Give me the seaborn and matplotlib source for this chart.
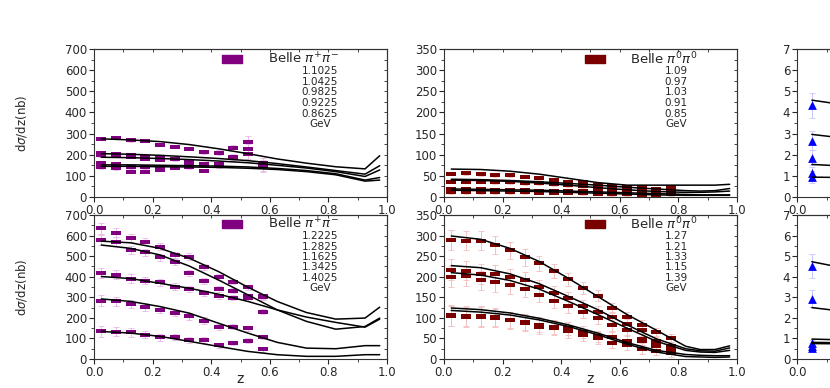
import numpy as np
import pandas as pd
import seaborn as sns
import matplotlib.pyplot as plt
from matplotlib.ticker import MultipleLocator

sns.set_style("ticks")
plt.rcParams['font.family'] = ['DejaVu Sans']

# --- z bins of the data points ---
z_pm = [0.025, 0.075, 0.125, 0.175, 0.225, 0.275, 0.325, 0.375, 0.425, 0.475, 0.525, 0.575]
z_00 = [0.025, 0.075, 0.125, 0.175, 0.225, 0.275, 0.325, 0.375, 0.425, 0.475, 0.525, 0.575,
        0.625, 0.675, 0.725, 0.775]
# --- z nodes of the model curves ---
z_curve = [0.025, 0.125, 0.225, 0.325, 0.425, 0.525, 0.625, 0.725, 0.825, 0.925, 0.975]
z_curve_mid = [0.025, 0.125, 0.225, 0.325, 0.425, 0.525, 0.625, 0.725, 0.825, 0.875, 0.925, 0.975]

# --- top left: Belle pi+pi-, lower masses ---
e_tl = ["1.1025", "1.0425", "0.9825", "0.9225", "0.8625"]
tl_pts = [
    [276, 280, 268, 265, 245, 238, 228, 212, 210, 230, 262, 160],
    [207, 203, 198, 190, 185, 182, 168, 158, 155, 190, 228, 150],
    [197, 195, 190, 182, 175, 178, 160, 150, 148, 185, 205, 145],
    [160, 155, 140, 140, 135, 140, 150, 152, 150],
    [140, 135, 118, 118, 130, 138, 140, 125, 145],
]
tl_err = [6, 6, 6, 6, 6, 6, 7, 8, 10, 14, 25, 25]
tl_curves = [
    [275, 270, 262, 248, 228, 205, 180, 160, 143, 133, 195],
    [205, 202, 197, 190, 182, 172, 158, 142, 125, 108, 148],
    [188, 186, 182, 177, 170, 162, 150, 137, 120, 97, 128],
    [152, 152, 150, 148, 146, 142, 135, 125, 110, 80, 92],
    [145, 145, 143, 142, 140, 136, 130, 120, 105, 75, 80],
]

# --- bottom left: Belle pi+pi-, higher masses ---
e_bl = ["1.2225", "1.2825", "1.1625", "1.3425", "1.4025"]
bl_pts = [
    [635, 615, 590, 570, 546, 506, 498, 449, 400, 376, 349, 304],
    [578, 570, 530, 519, 494, 472, 420, 380, 342, 333, 304, 230],
    [417, 409, 391, 381, 372, 352, 339, 320, 304, 299, 296, 300],
    [284, 280, 268, 252, 239, 223, 207, 187, 157, 158, 150, 107],
    [134, 132, 129, 118, 107, 107, 94, 94, 66, 78, 90, 48],
]
bl_err = [25, 22, 20, 18, 17, 16, 15, 15, 14, 12, 12, 12]
bl_curves = [
    [573, 565, 538, 490, 425, 349, 280, 226, 194, 199, 252],
    [554, 538, 506, 452, 384, 312, 239, 183, 145, 158, 199],
    [401, 391, 368, 344, 315, 280, 239, 204, 178, 155, 194],
    [292, 280, 255, 223, 174, 126, 81, 53, 50, 65, 65],
    [134, 126, 110, 86, 61, 37, 21, 13, 13, 21, 21],
]

# --- top middle: Belle pi0pi0, lower masses ---
e_tm = ["1.09", "0.97", "1.03", "0.91", "0.85"]
tm_pts = [
    [55, 57, 54, 51, 51, 48, 44, 40, 36, 35, 28, 26, 24, 23, 20, 23],
    [36, 36, 36, 35, 35, 33, 32, 30, 28, 26, 22, 21, 20, 18, 16, 15],
    [18, 19, 18, 17, 16, 17, 15, 15, 14, 13, 12, 11, 10, 10, 8, 10],
    [15, 16, 15, 14, 14, 14, 13, 13, 13, 12, 11, 10, 9, 8, 6, 8],
    [12, 12, 12, 11, 11, 11, 10, 10, 10, 9, 8, 7, 6, 5, 3, 6],
]
tm_err = [4, 4, 4, 4, 4, 4, 4, 4, 4, 4, 4, 4, 4, 4, 4, 4]
tm_curves = [
    [66, 65, 61, 54, 44, 34, 28, 28, 28, 28, 28, 30],
    [42, 41, 39, 36, 32, 28, 23, 19, 15, 14, 15, 20],
    [40, 39, 37, 33, 28, 22, 17, 13, 11, 11, 12, 14],
    [19, 18, 17, 16, 14, 12, 10, 8, 6, 5, 5, 5],
    [16, 15, 14, 13, 11, 9, 7, 5, 4, 4, 4, 4],
]

# --- bottom middle: Belle pi0pi0, higher masses ---
e_bm = ["1.27", "1.21", "1.33", "1.15", "1.39"]
bm_pts = [
    [289, 288, 288, 277, 264, 247, 233, 215, 194, 172, 154, 124, 103, 83, 65, 51],
    [217, 215, 207, 207, 199, 191, 175, 160, 148, 129, 114, 101, 86, 71, 43, 31],
    [200, 202, 191, 186, 179, 171, 156, 142, 129, 114, 99, 82, 70, 49, 35, 24],
    [106, 105, 105, 102, 95, 90, 83, 79, 75, 65, 55, 53, 45, 45, 31, 23],
    [105, 103, 103, 99, 94, 87, 79, 75, 67, 59, 51, 39, 33, 24, 19, 15],
]
bm_err = [25, 24, 24, 22, 20, 20, 18, 17, 16, 15, 14, 13, 12, 11, 10, 10]
bm_curves = [
    [299, 291, 269, 237, 196, 152, 108, 70, 31, 23, 23, 32],
    [227, 222, 207, 183, 152, 120, 83, 49, 25, 20, 19, 27],
    [210, 204, 191, 170, 140, 108, 75, 43, 21, 17, 16, 21],
    [124, 120, 112, 99, 83, 63, 40, 21, 11, 9, 8, 8],
    [118, 114, 107, 95, 79, 59, 36, 17, 6, 5, 4, 5],
]

# --- right column (cut off): first z bin only ---
z_r = [0.05]
z_r_curve = [0.05, 0.15]
tr_pts = [4.33, 2.67, 1.86, 1.13, 0.94]
tr_err = [0.6, 0.45, 0.35, 0.3, 0.3]
tr_curves = [[4.58, 4.38], [2.96, 2.8], [1.54, 1.47], [0.94, 0.92]]
br_pts = [4.52, 2.94, 0.76, 0.65, 0.55]
br_err = [0.6, 0.4, 0.15, 0.12, 0.1]
br_curves = [[4.73, 4.45], [2.5, 2.33], [0.97, 0.93], [0.81, 0.79], [0.75, 0.74]]

rect = [(-1, -0.45), (1, -0.45), (1, 0.45), (-1, 0.45), (-1, -0.45)]


def long_df(zs, series):
    rows = []
    for i, vals in enumerate(series):
        for z, v in zip(zs, vals):
            rows.append({"curve": i, "z": z, "val": v})
    return pd.DataFrame(rows)


def style_axes(ax, ymax, ymajor, yminor, show_ylabel, show_xlabel):
    ax.set_xlim(0, 1)
    ax.set_ylim(0, ymax)
    ax.xaxis.set_major_locator(MultipleLocator(0.2))
    ax.xaxis.set_minor_locator(MultipleLocator(0.1))
    ax.yaxis.set_major_locator(MultipleLocator(ymajor))
    ax.yaxis.set_minor_locator(MultipleLocator(yminor))
    ax.xaxis.set_major_formatter(lambda v, p: f"{v:.1f}")
    ax.tick_params(which='major', direction='out', length=3.5, width=0.8, labelsize=8.5, pad=1.5)
    ax.tick_params(which='minor', direction='out', length=2, width=0.6)
    for s in ax.spines.values():
        s.set_linewidth(0.8)
        s.set_color('#333333')
    top = ax.secondary_xaxis('top')
    top.xaxis.set_major_locator(MultipleLocator(0.1))
    top.tick_params(direction='in', length=2.5, width=0.6, labeltop=False)
    right = ax.secondary_yaxis('right')
    right.yaxis.set_major_locator(MultipleLocator(yminor))
    right.tick_params(direction='in', length=2.5, width=0.6, labelright=False)
    ax.set_xlabel("z" if show_xlabel else "", fontsize=10, labelpad=-5)
    ax.set_ylabel(r"d$\sigma$/dz(nb)" if show_ylabel else "", fontsize=8.5, labelpad=26)


def draw_panel(ax, zs, pts, err, zc, curves, color, ecolor):
    for vals in pts:
        ax.errorbar(zs[:len(vals)], vals, yerr=err[:len(vals)], fmt='none',
                    ecolor=ecolor, elinewidth=0.7, capsize=2, capthick=0.6, zorder=1)
    sns.scatterplot(data=long_df(zs, pts), x="z", y="val", ax=ax, color=color,
                    marker=rect, s=50, linewidth=0, zorder=2, legend=False)
    sns.lineplot(data=long_df(zc, curves), x="z", y="val", units="curve", estimator=None,
                 sort=False, ax=ax, color="black", linewidth=1.1, zorder=3, legend=False)


def draw_key(ax, color, label, energies, mx, tx, ex):
    ax.plot([mx], [0.935], transform=ax.transAxes, marker=rect, markersize=14,
            color=color, linestyle='none', clip_on=False)
    ax.text(tx, 0.935, label, transform=ax.transAxes, fontsize=9.5, va='center', ha='left')
    for i, e in enumerate(energies + ["GeV"]):
        ax.text(ex, 0.852 - 0.072 * i, e, transform=ax.transAxes, fontsize=7.5,
                va='center', ha='center')


fig = plt.figure(figsize=(8.3, 3.88), dpi=100)

w = 0.353
ax_tl = fig.add_axes([0.1133, 0.4923, w, 0.3814])
ax_bl = fig.add_axes([0.1133, 0.0747, w, 0.3711])
ax_tm = fig.add_axes([0.5349, 0.4923, w, 0.3814])
ax_bm = fig.add_axes([0.5349, 0.0747, w, 0.3711])
ax_tr = fig.add_axes([0.9605, 0.4923, w, 0.3814])
ax_br = fig.add_axes([0.9605, 0.0747, w, 0.3711])

purple = "#800080"
darkred = "#7a0000"

draw_panel(ax_tl, z_pm, tl_pts, tl_err, z_curve, tl_curves, purple, "#e8b8e8")
draw_panel(ax_bl, z_pm, bl_pts, bl_err, z_curve, bl_curves, purple, "#e8b8e8")
draw_panel(ax_tm, z_00, tm_pts, tm_err, z_curve_mid, tm_curves, darkred, "#f0c0c0")
draw_panel(ax_bm, z_00, bm_pts, bm_err, z_curve_mid, bm_curves, darkred, "#f0c0c0")

for ax, pts, err, curves in [(ax_tr, tr_pts, tr_err, tr_curves), (ax_br, br_pts, br_err, br_curves)]:
    for v, e in zip(pts, err):
        ax.errorbar(z_r, [v], yerr=[e], fmt='none', ecolor="#c8c8ff", elinewidth=0.7,
                    capsize=2, capthick=0.6, zorder=1)
    sns.scatterplot(x=z_r * len(pts), y=pts, ax=ax, color="blue", marker="^", s=40,
                    linewidth=0, zorder=2, legend=False)
    sns.lineplot(data=long_df(z_r_curve, curves), x="z", y="val", units="curve", estimator=None,
                 sort=False, ax=ax, color="black", linewidth=1.1, zorder=3, legend=False)

style_axes(ax_tl, 700, 100, 50, True, False)
style_axes(ax_bl, 700, 100, 50, True, True)
style_axes(ax_tm, 350, 50, 25, False, False)
style_axes(ax_bm, 350, 50, 25, False, True)
style_axes(ax_tr, 7, 1, 0.5, False, False)
style_axes(ax_br, 7, 1, 0.5, False, True)
ax_br.set_xlabel("")

draw_key(ax_tl, purple, r"Belle $\pi^{+}\pi^{-}$", e_tl, 0.471, 0.594, 0.771)
draw_key(ax_bl, purple, r"Belle $\pi^{+}\pi^{-}$", e_bl, 0.471, 0.594, 0.771)
draw_key(ax_tm, darkred, r"Belle $\pi^{0}\pi^{0}$", e_tm, 0.517, 0.636, 0.793)
draw_key(ax_bm, darkred, r"Belle $\pi^{0}\pi^{0}$", e_bm, 0.517, 0.636, 0.793)

fig.savefig("out.png", dpi=100)
